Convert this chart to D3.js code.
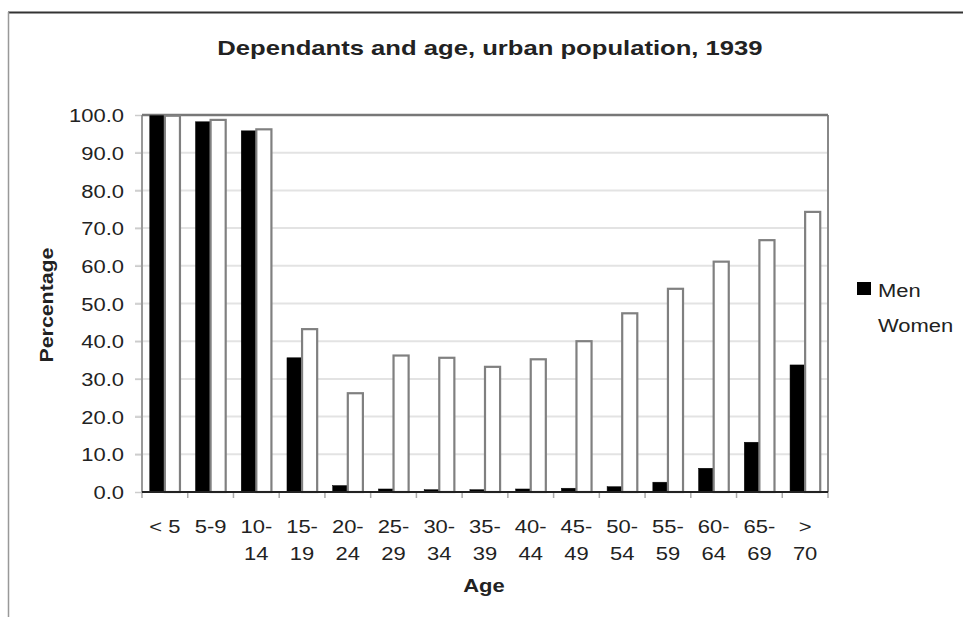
<!DOCTYPE html>
<html>
<head>
<meta charset="utf-8">
<script src="https://cdn.jsdelivr.net/npm/d3@7"></script>
<style>
  body { margin: 0; background: #fff; }
  text { font-family: "Liberation Sans", Arial, sans-serif; fill: #222; }
</style>
</head>
<body>
<div id="chart"></div>
<script>
// age groups, first and second line of each tick label
const ageGroups = ["< 5", "5-9", "10-14", "15-19", "20-24", "25-29", "30-34", "35-39",
                   "40-44", "45-49", "50-54", "55-59", "60-64", "65-69", "> 70"];
const tickLine1 = ["< 5", "5-9", "10-", "15-", "20-", "25-", "30-", "35-",
                   "40-", "45-", "50-", "55-", "60-", "65-", ">"];
const tickLine2 = ["", "", "14", "19", "24", "29", "34", "39",
                   "44", "49", "54", "59", "64", "69", "70"];

// percentage of dependants
const men   = [99.8, 98.2, 95.8, 35.6, 1.7, 0.8, 0.6, 0.6, 0.8, 1.0, 1.4, 2.6, 6.3, 13.2, 33.7];
const women = [99.8, 98.7, 96.2, 43.2, 26.2, 36.2, 35.6, 33.2, 35.2, 40.0, 47.4, 53.9, 61.1, 66.8, 74.3];

const seriesNames = ["Men", "Women"];
const yTicks = [0, 10, 20, 30, 40, 50, 60, 70, 80, 90, 100];

const W = 963, H = 617;
const plot = { left: 142, right: 828, top: 115, bottom: 492 };
const wide = 1.22; // the original picture is a bit stretched sideways

// widen text sideways, keeping its anchor
function stretch(sel, f) {
    sel.each(function() {
        const len = this.getComputedTextLength();
        d3.select(this).attr("textLength", len * f).attr("lengthAdjust", "spacingAndGlyphs");
    });
}

const svg = d3.select("#chart").append("svg")
    .attr("width", W)
    .attr("height", H);

// outer frame (only top & left visible in the picture)
svg.append("line").attr("x1", 8).attr("x2", W).attr("y1", 12.5).attr("y2", 12.5)
    .attr("stroke", "#333").attr("stroke-width", 2);
svg.append("line").attr("x1", 8.5).attr("x2", 8.5).attr("y1", 12).attr("y2", H)
    .attr("stroke", "#999").attr("stroke-width", 1.5);

const x = d3.scaleBand()
    .domain(ageGroups)
    .range([plot.left, plot.right])
    .paddingInner(0.34)
    .paddingOuter(0.17);

const xSub = d3.scaleBand()
    .domain(seriesNames)
    .range([0, x.bandwidth()]);

const y = d3.scaleLinear()
    .domain([0, 100])
    .range([plot.bottom, plot.top]);

// gridlines + little ticks to the left
svg.append("g")
    .selectAll("line")
    .data(yTicks.filter(d => d > 0 && d < 100))
    .join("line")
    .attr("x1", plot.left - 7)
    .attr("x2", plot.right)
    .attr("y1", d => y(d))
    .attr("y2", d => y(d))
    .attr("stroke", "#e3e3e3")
    .attr("stroke-width", 2);

// y axis labels
const yAxis = d3.axisLeft(y)
    .tickValues(yTicks)
    .tickFormat(d3.format(".1f"))
    .tickSize(7)
    .tickPadding(11);

const yG = svg.append("g")
    .attr("transform", `translate(${plot.left},0)`)
    .call(yAxis);
yG.select(".domain").remove();
yG.selectAll(".tick line").attr("stroke", "#ccc").attr("stroke-width", 1.5);
yG.selectAll(".tick text")
    .attr("font-size", 18)
    .attr("font-family", "Liberation Sans, Arial, sans-serif")
    .attr("fill", "#222")
    .attr("dy", "0.37em")
    .call(stretch, wide);

// plot border
svg.append("line").attr("x1", plot.left).attr("x2", plot.left)
    .attr("y1", plot.top).attr("y2", plot.bottom)
    .attr("stroke", "#999").attr("stroke-width", 2);
svg.append("line").attr("x1", plot.right).attr("x2", plot.right)
    .attr("y1", plot.top).attr("y2", plot.bottom)
    .attr("stroke", "#888").attr("stroke-width", 2);
svg.append("line").attr("x1", plot.left).attr("x2", plot.right)
    .attr("y1", plot.top).attr("y2", plot.top)
    .attr("stroke", "#777").attr("stroke-width", 2.5);

// bars
const groups = svg.append("g")
    .selectAll("g")
    .data(ageGroups.map((a, i) => ({ age: a, values: [men[i], women[i]] })))
    .join("g")
    .attr("transform", d => `translate(${x(d.age)},0)`);

groups.selectAll("rect")
    .data(d => d.values.map((v, j) => ({ name: seriesNames[j], value: v })))
    .join("rect")
    .attr("x", d => xSub(d.name))
    .attr("width", xSub.bandwidth())
    .attr("y", d => y(d.value))
    .attr("height", d => y(0) - y(d.value))
    .attr("fill", d => d.name === "Men" ? "#000" : "#fff")
    .attr("stroke", d => d.name === "Men" ? "#000" : "#808080")
    .attr("stroke-width", d => d.name === "Men" ? 0.5 : 2.2);

// x axis baseline + small ticks between categories
const bounds = d3.range(ageGroups.length + 1).map(i => plot.left + i * (plot.right - plot.left) / ageGroups.length);
svg.append("g")
    .selectAll("line")
    .data(bounds)
    .join("line")
    .attr("x1", d => d).attr("x2", d => d)
    .attr("y1", plot.bottom).attr("y2", plot.bottom + 6)
    .attr("stroke", "#aaa").attr("stroke-width", 1.5);
svg.append("line").attr("x1", plot.left).attr("x2", plot.right)
    .attr("y1", plot.bottom).attr("y2", plot.bottom)
    .attr("stroke", "#222").attr("stroke-width", 2);

// x tick labels (two lines)
const xl = svg.append("g");
ageGroups.forEach((a, i) => {
    const cx = x(a) + x.bandwidth() / 2;
    xl.append("text").attr("x", cx).attr("y", 533)
        .attr("text-anchor", "middle").attr("font-size", 18).text(tickLine1[i]);
    if (tickLine2[i]) {
        xl.append("text").attr("x", cx).attr("y", 560)
            .attr("text-anchor", "middle").attr("font-size", 18).text(tickLine2[i]);
    }
});
xl.selectAll("text").call(stretch, wide);

// titles
svg.append("text")
    .attr("x", 490).attr("y", 55)
    .attr("text-anchor", "middle")
    .attr("font-size", 21).attr("font-weight", "bold")
    .text("Dependants and age, urban population, 1939")
    .call(stretch, wide);

svg.append("text")
    .attr("x", 484).attr("y", 592)
    .attr("text-anchor", "middle")
    .attr("font-size", 18).attr("font-weight", "bold")
    .text("Age")
    .call(stretch, wide);

svg.append("text")
    .attr("transform", "translate(53,305) rotate(-90)")
    .attr("text-anchor", "middle")
    .attr("font-size", 19).attr("font-weight", "bold")
    .attr("textLength", 115).attr("lengthAdjust", "spacingAndGlyphs")
    .text("Percentage");

// legend
const legend = svg.append("g")
    .selectAll("g")
    .data(seriesNames)
    .join("g")
    .attr("transform", (d, i) => `translate(857,${282 + i * 35})`);
legend.append("rect")
    .attr("width", 14).attr("height", 13)
    .attr("fill", d => d === "Men" ? "#000" : "#fff");
legend.append("text")
    .attr("x", 21).attr("y", 15)
    .attr("font-size", 18)
    .text(d => d)
    .call(stretch, wide);
</script>
</body>
</html>
